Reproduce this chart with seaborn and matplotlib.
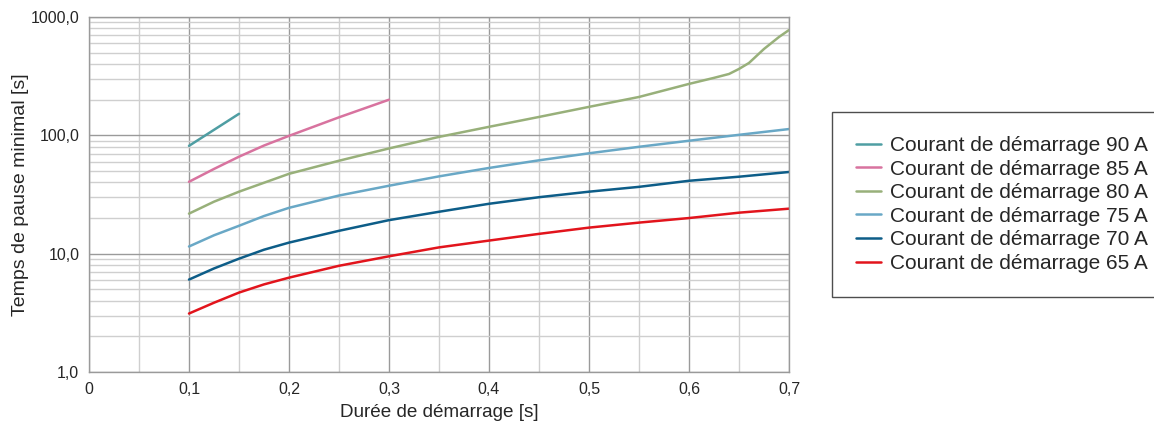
"""Temps de pause minimal vs durée de démarrage (log scale)."""

import matplotlib
matplotlib.use("Agg")
import matplotlib.pyplot as plt
import matplotlib.ticker as mticker
import numpy as np
import pandas as pd
import seaborn as sns

# --- data ---
x_90 = [0.10, 0.15]
y_90 = [81.5, 152]

x_85 = [0.10, 0.125, 0.15, 0.175, 0.20, 0.25, 0.30]
y_85 = [40.5, 52, 66, 82, 99, 142, 200]

x_80 = [0.10, 0.125, 0.15, 0.20, 0.25, 0.30, 0.35, 0.40, 0.45, 0.50, 0.55, 0.60,
        0.625, 0.64, 0.65, 0.66, 0.675, 0.69, 0.70]
y_80 = [21.8, 27.5, 33.4, 47.3, 61, 77.5, 97, 118, 143, 174, 211, 272,
        306, 330, 364, 409, 537, 678, 776]

x_75 = [0.10, 0.125, 0.15, 0.175, 0.20, 0.25, 0.30, 0.35, 0.40, 0.45, 0.50, 0.55, 0.60, 0.65, 0.70]
y_75 = [11.5, 14.3, 17.2, 20.8, 24.4, 31, 37.5, 45, 53, 61.5, 70.5, 80, 90, 101, 113]

x_70 = [0.10, 0.125, 0.15, 0.175, 0.20, 0.25, 0.30, 0.35, 0.40, 0.45, 0.50, 0.55, 0.60, 0.65, 0.70]
y_70 = [6.04, 7.5, 9.07, 10.8, 12.4, 15.6, 19.2, 22.6, 26.4, 30, 33.4, 36.7, 41.3, 44.7, 49]

x_65 = [0.10, 0.125, 0.15, 0.175, 0.20, 0.25, 0.30, 0.35, 0.40, 0.45, 0.50, 0.55, 0.60, 0.65, 0.70]
y_65 = [3.12, 3.85, 4.69, 5.5, 6.27, 7.9, 9.5, 11.3, 12.9, 14.7, 16.6, 18.3, 20, 22.2, 24]

series_labels = [
    "Courant de démarrage 90 A",
    "Courant de démarrage 85 A",
    "Courant de démarrage 80 A",
    "Courant de démarrage 75 A",
    "Courant de démarrage 70 A",
    "Courant de démarrage 65 A",
]
series_colors = ["#4f9ea3", "#d8739f", "#98b07a", "#69a8c6", "#0d5d88", "#e2141c"]

x_ticks = [0, 0.1, 0.2, 0.3, 0.4, 0.5, 0.6, 0.7]
x_tick_labels = ["0", "0,1", "0,2", "0,3", "0,4", "0,5", "0,6", "0,7"]
y_ticks = [1, 10, 100, 1000]
y_tick_labels = ["1,0", "10,0", "100,0", "1000,0"]

frames = []
for label, xs, ys in zip(series_labels, [x_90, x_85, x_80, x_75, x_70, x_65],
                         [y_90, y_85, y_80, y_75, y_70, y_65]):
    frames.append(pd.DataFrame({"duree": xs, "pause": ys, "serie": label}))
df = pd.concat(frames, ignore_index=True)

sns.set_theme(style="white")
plt.rcParams["font.family"] = ["Liberation Sans", "DejaVu Sans"]

fig = plt.figure(figsize=(11.54, 4.25), dpi=100)
ax = fig.add_axes([89 / 1154, 1 - 372 / 425, 700 / 1154, 355 / 425])

sns.lineplot(
    data=df, x="duree", y="pause", hue="serie", hue_order=series_labels,
    palette=dict(zip(series_labels, series_colors)), linewidth=1.8,
    sort=True, estimator=None, ax=ax, legend=True,
)

ax.set_yscale("log")
ax.set_xlim(0, 0.7)
ax.set_ylim(1, 1000)

ax.set_xticks(x_ticks)
ax.set_xticklabels(x_tick_labels)
ax.xaxis.set_minor_locator(mticker.MultipleLocator(0.05))
ax.set_yticks(y_ticks)
ax.set_yticklabels(y_tick_labels)
ax.yaxis.set_minor_locator(mticker.LogLocator(base=10, subs=np.arange(2, 10)))
ax.yaxis.set_minor_formatter(mticker.NullFormatter())

ax.grid(which="major", color="#9a9a9a", linewidth=1.0)
ax.grid(which="minor", color="#cfcfcf", linewidth=1.0)
ax.set_axisbelow(True)
ax.tick_params(which="major", length=4, color="#888888", labelsize=11.5, pad=3)
ax.tick_params(which="minor", length=0)
for side in ["left", "bottom", "top", "right"]:
    ax.spines[side].set_color("#9a9a9a")
    ax.spines[side].set_linewidth(1.0)

ax.set_xlabel("Durée de démarrage [s]", fontsize=13.6, labelpad=5)
ax.set_ylabel("Temps de pause minimal [s]", fontsize=14.0, labelpad=1)

handles, labels = ax.get_legend_handles_labels()
ax.legend_.remove()
leg = fig.legend(
    handles, labels, loc="upper left", bbox_to_anchor=(832 / 1154, 1 - 112 / 425),
    frameon=True, fancybox=False, edgecolor="#222222", fontsize=15,
    handlelength=1.2, handletextpad=0.45, labelspacing=0.22,
    borderpad=1.15, borderaxespad=0,
)
leg.get_frame().set_linewidth(1.0)

fig.savefig("out.png", dpi=100)
plt.close(fig)
